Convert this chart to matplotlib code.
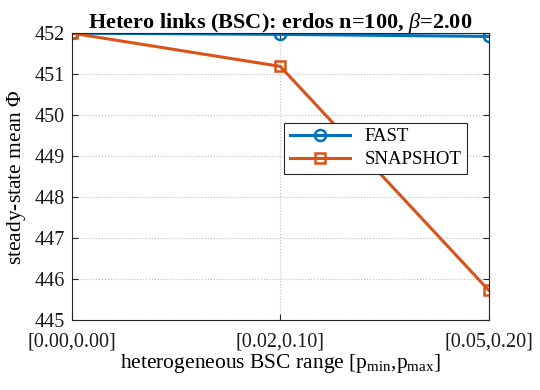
import matplotlib
matplotlib.use('Agg')
import matplotlib.pyplot as plt

categories = ['[0.00,0.00]', '[0.02,0.10]', '[0.05,0.20]']
fast = [452.0, 451.97, 451.92]
snapshot = [452.0, 451.19, 445.73]

title = r'Hetero links (BSC): erdos n=100, $\beta$=2.00'
xlabel = r'heterogeneous BSC range [p$_{\rm min}$,p$_{\rm max}$]'
ylabel = r'steady-state mean $\Phi$'

plt.rcParams['font.family'] = ['Liberation Serif', 'DejaVu Serif']
plt.rcParams['mathtext.fontset'] = 'custom'
plt.rcParams['mathtext.rm'] = 'Liberation Serif'
plt.rcParams['mathtext.it'] = 'Liberation Serif:italic'
plt.rcParams['mathtext.bf'] = 'Liberation Serif:bold'

fig = plt.figure(figsize=(5.4, 3.9), dpi=100)
ax = fig.add_axes([0.133, 0.179, 0.772, 0.736])

x = list(range(len(categories)))
ax.plot(x, fast, '-o', color='#0072BD', lw=2.2, ms=8, mfc='none', mew=1.8, label='FAST')
ax.plot(x, snapshot, '-s', color='#D95319', lw=2.2, ms=7.5, mfc='none', mew=1.8, label='SNAPSHOT')

ax.set_xlim(0, 2)
ax.set_ylim(445, 452)
ax.set_xticks(x)
ax.set_xticklabels(categories)
ax.set_yticks(range(445, 453))
ax.tick_params(direction='in', top=True, right=True, labelsize=14.5, colors='#262626', length=4)
ax.tick_params(axis='x', pad=9)
ax.tick_params(axis='y', pad=5)
for lab in ax.get_xticklabels() + ax.get_yticklabels():
    lab.set_color('#1a1a1a')
for s in ax.spines.values():
    s.set_color('#262626')
    s.set_linewidth(0.8)
ax.grid(True, linestyle=':', color='#bdbdbd', linewidth=0.8)

ax.set_title(title, fontsize=16, fontweight='bold', pad=4)
ax.set_xlabel(xlabel, fontsize=15.5, labelpad=0)
ax.set_ylabel(ylabel, fontsize=15.5, labelpad=5)

leg = ax.legend(loc='upper right', bbox_to_anchor=(0.971, 0.721), fontsize=13.5,
                fancybox=False, framealpha=1, edgecolor='#262626', handlelength=3.2,
                borderpad=0.3, labelspacing=0.3)
leg.get_frame().set_linewidth(0.8)

plt.savefig('out.png', dpi=100)
